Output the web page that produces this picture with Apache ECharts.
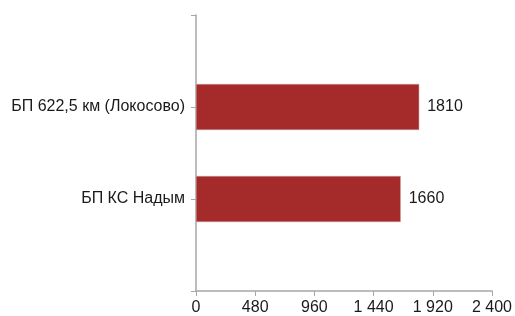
<!DOCTYPE html>
<html>
<head>
<meta charset="utf-8">
<script src="https://cdn.jsdelivr.net/npm/echarts@6/dist/echarts.min.js"></script>
<style>
  html, body { margin: 0; padding: 0; background: #fff; }
  #main { width: 515px; height: 316px; }
</style>
</head>
<body>
<div id="main"></div>
<script>
  // категории снизу вверх, с пустыми краями как в исходнике
  const categories = ['', 'БП КС Надым', 'БП 622,5 км (Локосово)', '']
  const values = [null, 1660, 1810, null]
  const xTicks = [0, 480, 960, 1440, 1920, 2400]

  const axisGray = '#a6a6a6'
  const fmt = (v) => String(v).replace(/\B(?=(\d{3})+(?!\d))/g, ' ')

  const chart = echarts.init(document.getElementById('main'))
  chart.setOption({
    animation: false,
    textStyle: { fontFamily: 'Liberation Sans, Arial, sans-serif' },
    grid: { left: 196, right: 22, top: 15, bottom: 24, containLabel: false },
    xAxis: {
      type: 'value',
      min: xTicks[0],
      max: xTicks[xTicks.length - 1],
      interval: 480,
      axisLine: { show: true, lineStyle: { color: axisGray, width: 1.5 } },
      axisTick: { show: true, length: 5, lineStyle: { color: axisGray } },
      splitLine: { show: false },
      axisLabel: {
        color: '#1a1a1a', fontSize: 16, margin: 9,
        formatter: (v) => fmt(v)
      }
    },
    yAxis: {
      type: 'category',
      data: categories,
      boundaryGap: false,
      axisLine: { show: true, lineStyle: { color: axisGray, width: 1.5 } },
      axisTick: { show: true, length: 5, alignWithLabel: true, lineStyle: { color: axisGray } },
      axisLabel: { color: '#1a1a1a', fontSize: 16, margin: 11 },
      splitLine: { show: false }
    },
    series: [
      {
        type: 'bar',
        data: values,
        barWidth: 46,
        itemStyle: { color: '#a52a2a', borderColor: '#c9a0a0', borderWidth: 0.5 },
        label: {
          show: true,
          position: 'right',
          distance: 8,
          color: '#1a1a1a',
          fontSize: 16
        }
      }
    ]
  })
</script>
</body>
</html>
